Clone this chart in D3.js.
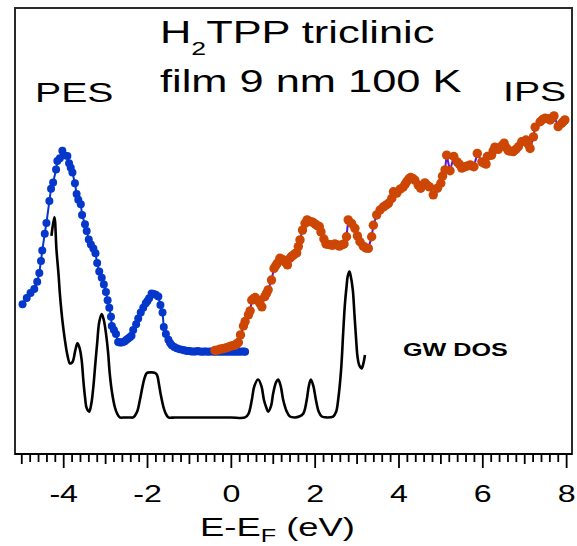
<!DOCTYPE html>
<html>
<head>
<meta charset="utf-8">
<script src="https://cdn.jsdelivr.net/npm/d3@7"></script>
<style>
  html, body { margin: 0; padding: 0; background: #fff; }
  svg { display: block; }
  text { font-family: "Liberation Sans", Arial, sans-serif; fill: #000; }
</style>
</head>
<body>
<svg id="chart" width="577" height="546"></svg>
<script>
// Photoemission (PES) spectrum: [energy (eV), intensity (arb. units)]
const pesData = [
  [-4.97,33.6],[-4.87,35.0],[-4.78,36.1],[-4.69,37.0],[-4.62,38.6],[-4.57,40.6],[-4.53,43.3],
  [-4.50,45.6],[-4.44,49.4],[-4.40,51.8],[-4.33,56.7],[-4.29,59.5],[-4.24,60.9],[-4.17,63.8],
  [-4.14,65.7],[-4.08,66.3],[-4.02,68.0],[-3.98,67.0],[-3.90,66.8],[-3.86,65.2],[-3.82,64.2],
  [-3.78,63.1],[-3.72,60.7],[-3.68,58.3],[-3.64,57.0],[-3.58,56.0],[-3.55,53.6],[-3.48,51.5],
  [-3.44,50.0],[-3.39,48.1],[-3.34,47.0],[-3.28,46.1],[-3.23,45.0],[-3.19,42.8],[-3.14,40.9],
  [-3.08,39.5],[-3.03,38.0],[-2.98,36.3],[-2.94,34.5],[-2.90,32.8],[-2.86,30.8],[-2.84,28.7],
  [-2.79,27.8],[-2.74,26.9],[-2.69,25.1],[-2.65,25.0],[-2.61,25.0],[-2.57,25.1],[-2.53,25.3],
  [-2.49,25.6],[-2.45,25.9],[-2.41,26.2],[-2.37,26.5],[-2.33,27.8],[-2.26,29.1],[-2.21,30.4],
  [-2.15,31.7],[-2.09,32.8],[-2.03,33.8],[-1.99,34.3],[-1.95,34.9],[-1.89,36.0],[-1.84,35.9],
  [-1.79,35.7],[-1.73,35.3],[-1.68,33.4],[-1.63,31.7],[-1.60,28.5],[-1.55,26.9],[-1.49,25.6],
  [-1.45,24.9],[-1.41,24.4],[-1.35,24.0],[-1.29,23.7],[-1.22,23.5],[-1.14,23.3],[-1.09,23.2],
  [-1.04,23.1],[-0.99,23.1],[-0.94,23.0],[-0.89,23.0],[-0.84,23.0],[-0.79,23.1],[-0.74,23.0],
  [-0.69,22.9],[-0.64,23.0],[-0.59,23.0],[-0.54,22.9],[-0.49,23.0],[-0.44,23.0],[-0.39,22.9],
  [-0.34,23.0],[-0.29,22.9],[-0.24,23.0],[-0.19,22.9],[-0.14,23.0],[-0.09,22.9],[-0.04,23.0],
  [0.01,22.9],[0.06,23.0],[0.11,22.9],[0.16,23.0],[0.21,22.9],[0.26,23.0],[0.31,23.0],[0.34,22.9]
];

// Inverse photoemission (IPS) spectrum: [energy (eV), intensity (arb. units)]
const ipsData = [
  [-0.38,23.2],[-0.32,23.3],[-0.26,23.5],[-0.20,23.6],[-0.14,23.7],[-0.08,23.9],[-0.02,24.1],
  [0.04,24.3],[0.10,24.4],[0.14,24.7],[0.18,25.0],[0.23,26.7],[0.30,28.7],[0.34,29.7],
  [0.42,31.2],[0.46,32.1],[0.50,34.5],[0.54,34.8],[0.58,35.1],[0.65,34.5],[0.69,33.8],
  [0.74,33.0],[0.81,35.3],[0.85,36.0],[0.89,36.8],[0.97,39.0],[1.03,41.6],[1.07,42.2],
  [1.11,42.8],[1.17,43.9],[1.21,43.7],[1.25,43.5],[1.30,43.0],[1.35,42.4],[1.41,43.9],
  [1.45,44.3],[1.49,44.6],[1.53,44.9],[1.57,45.1],[1.61,46.5],[1.65,48.0],[1.71,50.2],
  [1.77,51.7],[1.82,52.5],[1.90,52.1],[1.95,52.0],[2.01,51.6],[2.06,51.2],[2.11,51.0],
  [2.15,49.8],[2.22,48.2],[2.27,47.1],[2.33,47.0],[2.38,46.9],[2.43,46.8],[2.48,47.1],
  [2.53,46.9],[2.59,46.6],[2.64,46.9],[2.70,47.1],[2.76,48.7],[2.80,52.5],[2.88,51.7],
  [2.96,50.6],[3.02,48.9],[3.08,47.6],[3.16,46.6],[3.22,46.2],[3.28,46.1],[3.36,48.7],
  [3.40,51.3],[3.48,53.6],[3.56,54.7],[3.64,55.4],[3.70,55.8],[3.76,56.2],[3.84,57.3],
  [3.88,58.8],[3.96,58.5],[4.04,59.4],[4.11,59.8],[4.16,60.5],[4.20,61.1],[4.25,61.7],
  [4.29,62.0],[4.34,61.8],[4.39,61.4],[4.47,60.3],[4.53,59.6],[4.63,60.8],[4.68,60.3],
  [4.74,59.9],[4.83,58.1],[4.93,59.6],[5.01,60.7],[5.05,62.3],[5.11,63.7],[5.15,67.0],
  [5.23,63.5],[5.32,66.7],[5.40,65.5],[5.45,65.0],[5.51,64.1],[5.59,64.4],[5.65,64.6],
  [5.71,64.8],[5.75,64.6],[5.80,64.4],[5.88,67.4],[5.99,65.5],[6.04,65.2],[6.09,65.0],
  [6.12,66.7],[6.22,67.0],[6.26,68.0],[6.30,68.8],[6.38,68.3],[6.45,69.0],[6.52,69.7],
  [6.58,68.6],[6.62,68.0],[6.68,67.9],[6.74,67.8],[6.80,68.3],[6.86,68.9],[6.94,70.0],
  [7.04,70.4],[7.09,69.5],[7.14,68.5],[7.22,71.1],[7.26,73.3],[7.38,74.5],[7.44,75.0],
  [7.50,75.3],[7.56,75.2],[7.62,74.9],[7.66,75.3],[7.71,75.8],[7.81,73.4],[7.89,74.1],
  [7.93,74.5],[7.97,74.9]
];

// Calculated GW density of states: [energy (eV), DOS (arb. units)]
const dosData = [
  [-4.28,48.9],[-4.21,53.1],[-4.16,45.7],[-4.11,40.1],[-4.08,36.0],[-4.02,30.0],[-3.96,25.6],
  [-3.90,22.2],[-3.84,20.3],[-3.78,20.6],[-3.71,23.3],[-3.66,24.8],[-3.61,23.8],[-3.56,21.1],
  [-3.52,16.6],[-3.48,12.8],[-3.44,10.3],[-3.38,9.5],[-3.33,11.2],[-3.28,15.1],[-3.23,20.6],
  [-3.19,24.8],[-3.14,29.6],[-3.08,31.4],[-3.03,30.0],[-2.98,27.1],[-2.93,22.9],[-2.89,18.1],
  [-2.83,13.5],[-2.77,10.6],[-2.71,9.0],[-2.65,8.2],[-2.53,8.2],[-2.41,8.2],[-2.33,8.2],
  [-2.24,9.4],[-2.17,12.1],[-2.11,15.0],[-2.05,17.3],[-2.00,18.2],[-1.91,18.3],[-1.81,18.2],
  [-1.76,17.7],[-1.72,15.9],[-1.67,13.2],[-1.61,10.6],[-1.56,9.2],[-1.49,8.2],[-1.33,8.2],
  [-1.00,8.2],[-0.50,8.2],[0.00,8.2],[0.34,8.2],[0.42,9.0],[0.50,12.1],[0.56,15.2],
  [0.65,16.7],[0.73,15.2],[0.79,12.1],[0.85,10.3],[0.89,9.5],[0.96,10.8],[1.01,13.6],
  [1.08,16.1],[1.13,16.7],[1.19,15.2],[1.25,12.1],[1.33,9.6],[1.41,8.4],[1.53,8.2],
  [1.63,8.4],[1.73,9.1],[1.81,12.1],[1.86,15.2],[1.91,16.7],[1.97,15.2],[2.03,12.1],
  [2.10,9.4],[2.17,8.4],[2.29,8.2],[2.44,8.4],[2.51,9.4],[2.56,12.1],[2.63,18.8],
  [2.68,27.1],[2.72,33.4],[2.76,37.5],[2.79,39.9],[2.83,40.9],[2.86,39.9],[2.91,36.8],
  [2.95,31.2],[2.99,25.6],[3.02,22.0],[3.06,20.0],[3.12,19.2],[3.16,20.2],[3.20,22.2]
];

// Axis ticks
const majorTicks = [-4, -2, 0, 2, 4, 6, 8];
const midTicks = [-5, -3, -1, 1, 3, 5, 7];
const minorTicks = d3.range(-50, 81, 2).map(v => v / 10).filter(v => !Number.isInteger(v));

const W = 577, H = 546;
const plotLeft = 15, plotRight = 572, plotTop = 8, plotBottom = 454;
const stretch = 1.4; // text in this figure is drawn horizontally widened

const svg = d3.select("#chart");

const x = d3.scaleLinear().domain([-5.15, 8.14]).range([plotLeft, plotRight]);
const y = d3.scaleLinear().domain([0, 100]).range([plotBottom, plotTop]);

const colors = { pes: "#0537cb", ips: "#cd4604", ipsLine: "#5a17d8", dos: "#000" };

// Frame
svg.append("rect")
  .attr("x", plotLeft).attr("y", plotTop)
  .attr("width", plotRight - plotLeft).attr("height", plotBottom - plotTop)
  .attr("fill", "none").attr("stroke", "#2a2a2a").attr("stroke-width", 2);

// Ticks along the bottom
function tickLayer(values, size) {
  const g = svg.append("g")
    .attr("transform", `translate(0,${plotBottom})`)
    .call(d3.axisBottom(x).tickValues(values).tickSize(size).tickSizeOuter(0).tickFormat(""));
  g.select(".domain").remove();
  g.selectAll(".tick line").attr("stroke", "#000").attr("stroke-width", 1.8);
  return g;
}
tickLayer(minorTicks, 8);
tickLayer(midTicks, 10);
const gMajor = tickLayer(majorTicks, 14);
gMajor.selectAll(".tick text").remove();
gMajor.selectAll(".tick").append("text")
  .attr("y", 48)
  .attr("text-anchor", "middle")
  .attr("font-size", 23)
  .attr("transform", `scale(${stretch},1)`)
  .text(d => d);
svg.append("line")
  .attr("x1", plotLeft).attr("x2", plotRight).attr("y1", plotBottom).attr("y2", plotBottom)
  .attr("stroke", "#000").attr("stroke-width", 2);

// Axis title
const xt = svg.append("text")
  .attr("transform", `translate(200,536) scale(${stretch},1)`)
  .attr("font-size", 26);
xt.append("tspan").text("E-E");
xt.append("tspan").attr("font-size", 18).attr("dy", 6).text("F");
xt.append("tspan").attr("dy", -6).text(" (eV)");

// GW DOS curve
const dosLine = d3.line().x(d => x(d[0])).y(d => y(d[1])).curve(d3.curveCatmullRom.alpha(0.5));
svg.append("path").datum(dosData)
  .attr("d", dosLine).attr("fill", "none")
  .attr("stroke", colors.dos).attr("stroke-width", 2.6).attr("stroke-linejoin", "round");

// PES spectrum
const dataLine = d3.line().x(d => x(d[0])).y(d => y(d[1]));
svg.append("path").datum(pesData)
  .attr("d", dataLine).attr("fill", "none")
  .attr("stroke", colors.pes).attr("stroke-width", 2);
svg.append("g").selectAll("circle").data(pesData).join("circle")
  .attr("cx", d => x(d[0])).attr("cy", d => y(d[1])).attr("r", 4)
  .attr("fill", colors.pes);

// IPS spectrum
svg.append("path").datum(ipsData)
  .attr("d", dataLine).attr("fill", "none")
  .attr("stroke", colors.ipsLine).attr("stroke-width", 2);
svg.append("g").selectAll("circle").data(ipsData).join("circle")
  .attr("cx", d => x(d[0])).attr("cy", d => y(d[1])).attr("r", 4.7)
  .attr("fill", colors.ips);

// Labels
function label(txt, px, py, size, weight) {
  return svg.append("text")
    .attr("transform", `translate(${px},${py}) scale(${stretch},1)`)
    .attr("font-size", size)
    .attr("font-weight", weight || "normal")
    .text(txt);
}
const t1 = svg.append("text")
  .attr("transform", `translate(160,43) scale(${stretch},1)`)
  .attr("font-size", 31);
t1.append("tspan").text("H");
t1.append("tspan").attr("font-size", 19).attr("dy", 12).text("2");
t1.append("tspan").attr("dy", -12).text("TPP triclinic");
label("film 9 nm 100 K", 160, 92, 31);
label("PES", 35, 102, 28);
label("IPS", 503, 101, 28);
label("GW DOS", 403, 356, 18, "bold");
</script>
</body>
</html>
